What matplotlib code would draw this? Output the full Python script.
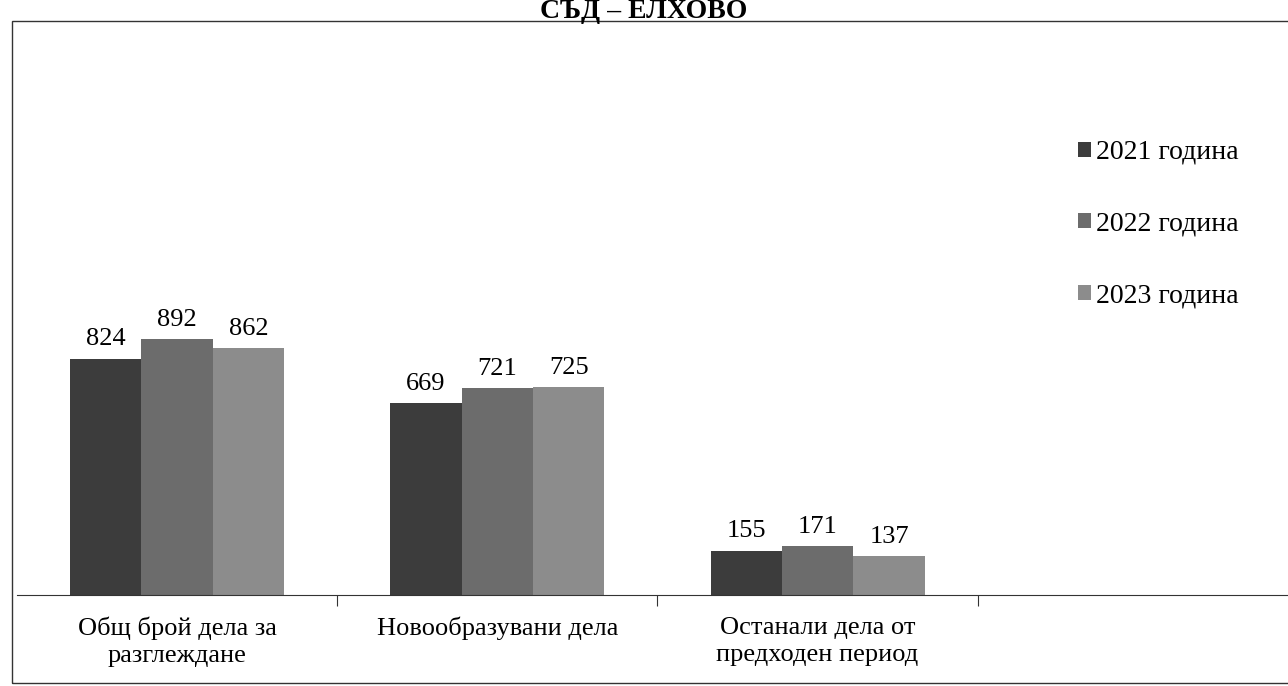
import numpy as np
import matplotlib.pyplot as plt
from matplotlib.patches import Rectangle

categories = ["Общ брой дела за\nразглеждане", "Новообразувани дела",
              "Останали дела от\nпредходен период", ""]
years = ["2021 година", "2022 година", "2023 година"]
v2021 = [824, 669, 155]
v2022 = [892, 721, 171]
v2023 = [862, 725, 137]
colors = ["#3c3c3c", "#6c6c6c", "#8c8c8c"]

plt.rcParams['font.family'] = ['Liberation Serif', 'DejaVu Serif']

fig = plt.figure(figsize=(12.88, 6.86), dpi=100)
W, H = 1288, 686

# chart frame
fig.patches.append(Rectangle((12 / W, 1 - 683 / H), 1.2, (683 - 21) / H,
                             transform=fig.transFigure, fill=False,
                             edgecolor="#333333", linewidth=1.0))

ax = fig.add_axes([17 / W, 1 - 595 / H, (1298 - 17) / W, (595 - 21) / H])
x = np.arange(3)
bw = 0.223
series = [v2021, v2022, v2023]
for i, vals in enumerate(series):
    pos = x + (i - 1) * bw
    bars = ax.bar(pos, vals, width=bw, color=colors[i], label=years[i])
    for b, v in zip(bars, vals):
        ax.text(b.get_x() + b.get_width() / 2, v + 28, str(v),
                ha="center", va="bottom", fontsize=19)

ax.set_xlim(-0.5, 3.5)
ax.set_ylim(0, 2000)
for s in ["top", "right", "left"]:
    ax.spines[s].set_visible(False)
ax.spines["bottom"].set_color("#333333")
ax.set_yticks([])
ax.set_xticks([0.5, 1.5, 2.5])
ax.set_xticklabels([])
ax.tick_params(axis="x", length=8, color="#333333")
for i, c in enumerate(categories):
    ax.text(i, -75, c, ha="center", va="top", fontsize=19,
            linespacing=1.3)

leg = fig.legend(loc="upper left", bbox_to_anchor=(1078 / W, 1 - 140 / H),
                 frameon=False, fontsize=20, handlelength=0.45, handleheight=0.45,
                 handletextpad=0.2, labelspacing=1.68, borderaxespad=0,
                 borderpad=0)

fig.text(0.5, 1 - 18 / H, "СЪД – ЕЛХОВО", ha="center", va="baseline",
         fontsize=20, fontweight="bold")

fig.savefig("out.png", dpi=100)
